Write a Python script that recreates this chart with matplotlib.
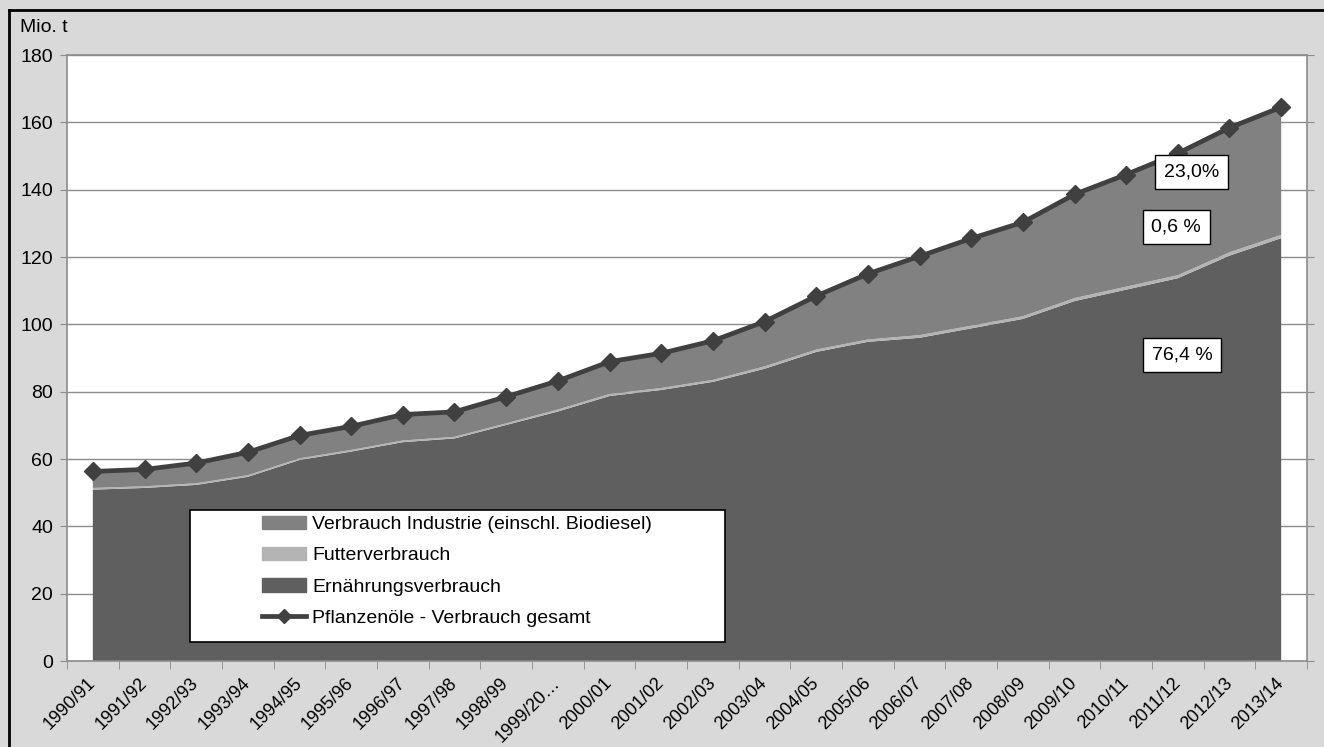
import matplotlib
matplotlib.use("Agg")
import matplotlib.pyplot as plt
from matplotlib.patches import Patch, Rectangle
from matplotlib.lines import Line2D
import numpy as np

plt.rcParams['font.family'] = ['Liberation Sans', 'DejaVu Sans']

# Wirtschaftsjahre
years = ["1990/91", "1991/92", "1992/93", "1993/94", "1994/95", "1995/96",
         "1996/97", "1997/98", "1998/99", "1999/20…", "2000/01", "2001/02",
         "2002/03", "2003/04", "2004/05", "2005/06", "2006/07", "2007/08",
         "2008/09", "2009/10", "2010/11", "2011/12", "2012/13", "2013/14"]

# Mio. t
gesamt = [56.3, 56.9, 58.8, 62.0, 67.0, 69.7, 73.2, 74.0, 78.5, 83.2, 88.9, 91.4,
          95.1, 100.8, 108.4, 115.0, 120.2, 125.5, 130.3, 138.6, 144.5, 150.8,
          158.4, 164.5]
ernaehrung = [50.9, 51.4, 52.3, 54.7, 59.7, 62.2, 65.0, 66.1, 70.1, 74.1, 78.7, 80.5,
              82.9, 86.8, 91.8, 94.8, 96.0, 98.8, 101.6, 106.9, 110.3, 113.7,
              120.4, 125.6]
futter = [0.5, 0.5, 0.5, 0.5, 0.5, 0.5, 0.5, 0.5, 0.5, 0.6, 0.6, 0.6,
          0.6, 0.7, 0.7, 0.7, 0.8, 0.8, 0.8, 0.9, 0.9, 0.9, 1.0, 1.0]
industrie = [g - e - f for g, e, f in zip(gesamt, ernaehrung, futter)]

anteile = ["23,0%", "0,6 %", "76,4 %"]

c_food = '#5f5f5f'
c_feed = '#b4b4b4'
c_ind = '#818181'
c_line = '#404040'

fig = plt.figure(figsize=(13.24, 7.47), dpi=100, facecolor='#d9d9d9')
ax = fig.add_axes([67 / 1324, (747 - 661) / 747, 1240 / 1324, 606 / 747])
ax.set_facecolor('white')

x = np.arange(len(years))
ax.stackplot(x, ernaehrung, futter, industrie, colors=[c_food, c_feed, c_ind],
             linewidth=0, zorder=2)
ax.plot(x, gesamt, color=c_line, lw=3.4, marker='D', ms=9.5, zorder=3)

ax.set_xlim(-0.5, len(years) - 0.5)
ax.set_ylim(0, 180)
ax.set_yticks(range(0, 181, 20))
ax.grid(axis='y', color='#8c8c8c', lw=1, zorder=1)
ax.set_axisbelow(True)

ax.set_xticks(x)
ax.set_xticklabels(years, rotation=45, ha='right', va='center',
                   rotation_mode='anchor', fontsize=13)
ax.set_xticks(np.arange(-0.5, len(years)), minor=True)
ax.tick_params(axis='x', which='major', length=0, pad=14)
ax.tick_params(axis='x', which='minor', length=6, color='#8c8c8c')
ax.tick_params(axis='y', length=5, color='#8c8c8c', labelsize=14, right=True,
               pad=5)
for s in ax.spines.values():
    s.set_color('#8c8c8c')
    s.set_linewidth(1.2)

# Anteile 2013/14
for txt, xp, yp in zip(anteile, [21.26, 20.97, 21.08], [145.2, 128.9, 90.9]):
    ax.text(xp, yp, txt, ha='center', va='center', fontsize=14, zorder=6,
            bbox=dict(boxstyle='square,pad=0.45', fc='white', ec='black', lw=1))

# Legende
ax.add_patch(Rectangle((0.099, 0.031), 0.432, 0.218, transform=ax.transAxes,
                       fc='white', ec='black', lw=1.2, zorder=5))
handles = [Patch(color=c_ind), Patch(color=c_feed), Patch(color=c_food),
           Line2D([], [], color=c_line, lw=3.4, marker='D', ms=7)]
labels = ["Verbrauch Industrie (einschl. Biodiesel)", "Futterverbrauch",
          "Ernährungsverbrauch", "Pflanzenöle - Verbrauch gesamt"]
leg = ax.legend(handles, labels, loc='upper left', bbox_to_anchor=(0.157, 0.24),
                frameon=False, fontsize=14, handlelength=2.3, handletextpad=0.3,
                labelspacing=0.7, borderpad=0, borderaxespad=0)
leg.set_zorder(6)

fig.text(20 / 1324, 1 - 28 / 747, "Mio. t", fontsize=14, va='center')

# Rahmen oben und links
fig.add_artist(Line2D([9 / 1324, 9 / 1324], [0, 1 - 10 / 747], color='black',
                      lw=2, transform=fig.transFigure))
fig.add_artist(Line2D([9 / 1324, 1], [1 - 10 / 747, 1 - 10 / 747], color='black',
                      lw=2, transform=fig.transFigure))

fig.savefig("out.png", dpi=100, facecolor=fig.get_facecolor())
